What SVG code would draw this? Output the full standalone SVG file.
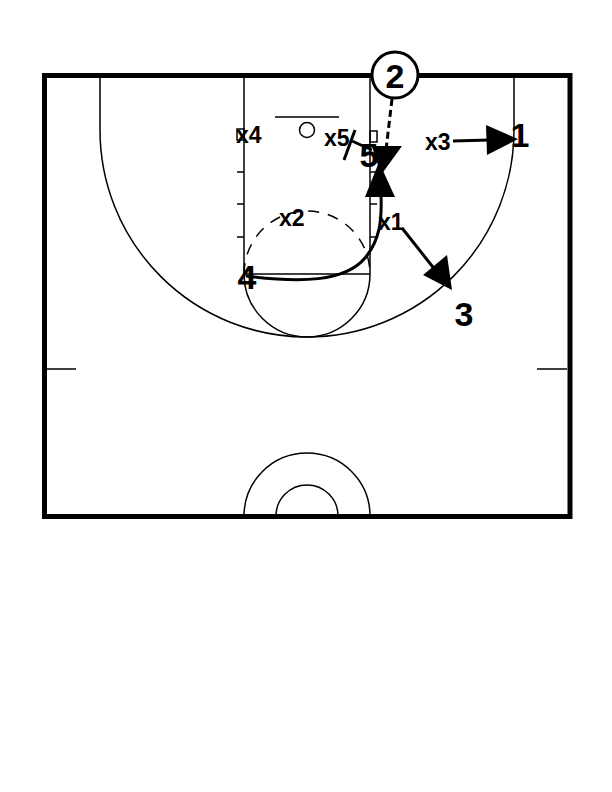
<svg xmlns="http://www.w3.org/2000/svg" width="612" height="792" viewBox="0 0 612 792">
<style>
.c{fill:none;stroke:#000;stroke-width:1.5}
.b{fill:none;stroke:#000;stroke-width:5}
.m{fill:none;stroke:#000;stroke-width:3}
.d{fill:none;stroke:#000;stroke-width:3;stroke-dasharray:7,4}
.ah{fill:#000;stroke:none}
.lb{font-family:"Liberation Sans",Arial,sans-serif;font-weight:bold;font-size:23px;fill:#000}
.pl{font-family:"Liberation Sans",Arial,sans-serif;font-weight:bold;font-size:34px;fill:#000}
</style>
<rect x="0" y="0" width="612" height="792" fill="#fff"/>
<g id="court">
<rect class="b" x="44.5" y="75.5" width="525.5" height="441"/>
<line class="c" x1="244" y1="76" x2="244" y2="274"/>
<line class="c" x1="370" y1="76" x2="370" y2="274"/>
<line class="c" x1="244" y1="274" x2="370" y2="274"/>
<path class="c" d="M244,274 A63,63 0 0 0 370,274"/>
<path class="c" d="M244,274 A63,63 0 0 1 370,274" stroke-dasharray="11,9"/>
<path class="c" d="M100,76 L100,130 A207,207 0 0 0 514,130 L514,76"/>
<line class="c" x1="275" y1="117" x2="339" y2="117"/>
<circle class="c" cx="307" cy="130" r="7.5"/>
<rect class="c" x="237" y="129" width="7" height="11"/>
<rect class="c" x="370" y="131" width="7" height="11"/>
<line class="c" x1="237" y1="172" x2="244" y2="172"/>
<line class="c" x1="237" y1="204" x2="244" y2="204"/>
<line class="c" x1="237" y1="237" x2="244" y2="237"/>
<line class="c" x1="370" y1="172" x2="377" y2="172"/>
<line class="c" x1="370" y1="204" x2="377" y2="204"/>
<line class="c" x1="370" y1="237" x2="377" y2="237"/>
<line class="c" x1="47" y1="369" x2="76" y2="369"/>
<line class="c" x1="537" y1="369" x2="567" y2="369"/>
<path class="c" d="M244,516 A63,63 0 0 1 370,516"/>
<path class="c" d="M276,516 A31,31 0 0 1 338,516"/>
</g>
<g id="connectors">
<line class="d" x1="392" y1="99" x2="386" y2="150"/>
<polygon class="ah" points="381,175 372,146 402,146"/>
<path class="m" d="M246,276 C300,283 345,282 365,258 C380,240 382,220 381,195"/>
<polygon class="ah" points="379,162 365,197 395,197"/>
<line class="m" x1="453" y1="141" x2="490" y2="140"/>
<polygon class="ah" points="518,139 486,125 487,155"/>
<line class="m" x1="402" y1="228" x2="436" y2="271"/>
<polygon class="ah" points="452,290 423,275 447,255"/>
<line class="m" x1="352" y1="141" x2="372" y2="150"/>
<line class="m" x1="344" y1="160" x2="355" y2="130"/>
</g>
<g id="p2"><circle cx="395" cy="75" r="23" fill="#fff" stroke="#000" stroke-width="3"/><text class="pl" x="395" y="88" text-anchor="middle">2</text></g>
<g id="p5"><text class="pl" x="369" y="167" text-anchor="middle">5</text></g>
<g id="p1"><text class="pl" x="520" y="147" text-anchor="middle">1</text></g>
<g id="p3"><text class="pl" x="464" y="326" text-anchor="middle">3</text></g>
<g id="p4"><text class="pl" x="247" y="289" text-anchor="middle">4</text></g>
<g id="x4"><text class="lb" x="236" y="143">x4</text></g>
<g id="x5"><text class="lb" x="324" y="146">x5</text></g>
<g id="x3"><text class="lb" x="425" y="150">x3</text></g>
<g id="x2"><text class="lb" x="279" y="226">x2</text></g>
<g id="x1"><text class="lb" x="378" y="230">x1</text></g>
</svg>
